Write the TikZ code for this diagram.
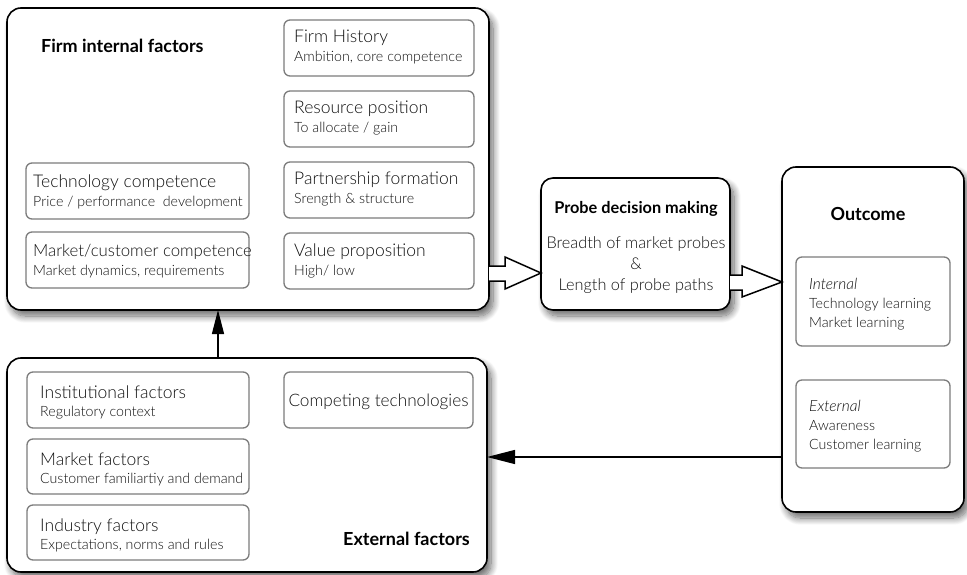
\documentclass[tikz,border=0pt]{standalone}
\usepackage{fontspec}
\setmainfont{Lato}[UprightFont=* Light, ItalicFont=* Light Italic, BoldFont=* Bold]
\usetikzlibrary{calc,arrows.meta,shadows.blur}

\definecolor{framegray}{HTML}{7C7C7C}
\definecolor{inkgray}{HTML}{111111}

\tikzset{
  outerbox/.style={draw=black, line width=1.6pt, rounded corners=14pt, fill=white,
    inner sep=0pt, outer sep=0pt, anchor=north west,
    blur shadow={shadow xshift=4pt, shadow yshift=-6pt, shadow blur steps=12, shadow blur radius=7pt, shadow opacity=60}},
  innerbox/.style={draw=framegray, line width=1.3pt, rounded corners=6pt, fill=white,
    inner sep=0pt, outer sep=0pt, anchor=north west},
  headtxt/.style={anchor=base west, inner sep=0pt, text=inkgray, font=\fontsize{17.5}{19}\selectfont},
  subtxt/.style={anchor=base west, inner sep=0pt, text=inkgray, font=\fontsize{14.2}{16}\selectfont},
  boldtxt/.style={inner sep=0pt, text=black, font=\fontsize{18}{20}\selectfont\bfseries},
  smalltxt/.style={anchor=base west, inner sep=0pt, text=inkgray, font=\fontsize{14.2}{16}\selectfont},
  bodytxt/.style={anchor=base, inner sep=0pt, text=inkgray, font=\fontsize{16.3}{18}\selectfont},
  hollow/.style={draw=black, fill=white, line width=1.5pt, line join=miter},
  link/.style={draw=black, line width=1.3pt}
}

\begin{document}
\begin{tikzpicture}[x=1pt,y=-1pt]
\useasboundingbox (0,0) rectangle (967,575);

% ---------------- Firm internal factors ----------------
\node[outerbox, minimum width=482pt, minimum height=302pt] (firm) at (7,8) {};
\node[boldtxt, anchor=base west] (firmtitle) at (41,53) {Firm internal factors};

\node[innerbox, minimum width=190pt, minimum height=56pt] (hist) at (284,20) {};
\node[headtxt] (histA) at ($(hist.north west)+(10,23)$) {Firm History};
\node[subtxt]  (histB) at ($(hist.north west)+(10,42)$) {Ambition, core competence};

\node[innerbox, minimum width=190pt, minimum height=56pt] (res) at (284,91) {};
\node[headtxt] (resA) at ($(res.north west)+(10,23)$) {Resource position};
\node[subtxt]  (resB) at ($(res.north west)+(10,42)$) {To allocate / gain};

\node[innerbox, minimum width=190pt, minimum height=56pt] (part) at (284,162) {};
\node[headtxt] (partA) at ($(part.north west)+(10,23)$) {Partnership formation};
\node[subtxt]  (partB) at ($(part.north west)+(10,42)$) {Srength \& structure};

\node[innerbox, minimum width=190pt, minimum height=56pt] (val) at (284,233) {};
\node[headtxt] (valA) at ($(val.north west)+(10,23)$) {Value proposition};
\node[subtxt]  (valB) at ($(val.north west)+(10,42)$) {High/ low};

\node[innerbox, minimum width=223pt, minimum height=56pt] (tech) at (26,163) {};
\node[headtxt] (techA) at ($(tech.north west)+(7,24)$) {Technology competence};
\node[subtxt]  (techB) at ($(tech.north west)+(7,43)$) {Price / performance\ \ development};

\node[innerbox, minimum width=223pt, minimum height=56pt] (mkt) at (26,232) {};
\node[headtxt, font=\fontsize{16.8}{19}\selectfont] (mktA) at ($(mkt.north west)+(7,24)$) {Market/customer competence};
\node[subtxt]  (mktB) at ($(mkt.north west)+(7,43)$) {Market dynamics, requirements};

% ---------------- External factors ----------------
\node[outerbox, minimum width=480pt, minimum height=214pt] (ext) at (7,358) {};
\node[boldtxt, anchor=base east] (exttitle) at (470,545) {External factors};

\node[innerbox, minimum width=222pt, minimum height=56pt] (inst) at (27,372) {};
\node[headtxt] (instA) at ($(inst.north west)+(13,26)$) {Institutional factors};
\node[subtxt]  (instB) at ($(inst.north west)+(13,44)$) {Regulatory context};

\node[innerbox, minimum width=222pt, minimum height=55pt] (mf) at (27,439) {};
\node[headtxt] (mfA) at ($(mf.north west)+(13,26)$) {Market factors};
\node[subtxt]  (mfB) at ($(mf.north west)+(13,44)$) {Customer familiartiy and demand};

\node[innerbox, minimum width=222pt, minimum height=55pt] (ind) at (27,505) {};
\node[headtxt] (indA) at ($(ind.north west)+(13,26)$) {Industry factors};
\node[subtxt]  (indB) at ($(ind.north west)+(13,44)$) {Expectations, norms and rules};

\node[innerbox, minimum width=189pt, minimum height=56pt] (comp) at (284,372) {};
\node[headtxt, anchor=base, font=\fontsize{17.2}{19}\selectfont] (compA) at ($(comp.north)+(0,34)$) {Competing technologies};

% ---------------- Probe decision making ----------------
\node[outerbox, rounded corners=12pt, minimum width=189pt, minimum height=132pt] (probe) at (541,178) {};
\node[boldtxt, anchor=base, font=\fontsize{16.3}{18}\selectfont\bfseries] (probeT) at (636,213) {Probe decision making};
\node[bodytxt] (probe1) at (636,248) {Breadth of market probes};
\node[bodytxt] (probe2) at (636,269) {\&};
\node[bodytxt] (probe3) at (636,290) {Length of probe paths};

% ---------------- Outcome ----------------
\node[outerbox, minimum width=182pt, minimum height=345pt] (out) at (782,167) {};
\node[boldtxt, anchor=base] (outT) at (868,220) {Outcome};

\node[innerbox, minimum width=154pt, minimum height=89pt] (oint) at (796,257) {};
\node[smalltxt, font=\fontsize{15.5}{17}\selectfont\itshape] (ointA) at ($(oint.north west)+(13,32)$) {Internal};
\node[smalltxt] (ointB) at ($(oint.north west)+(13,51)$) {Technology learning};
\node[smalltxt] (ointC) at ($(oint.north west)+(13,70)$) {Market learning};

\node[innerbox, minimum width=154pt, minimum height=88pt] (oext) at (796,380) {};
\node[smalltxt, font=\fontsize{15.5}{17}\selectfont\itshape] (oextA) at ($(oext.north west)+(13,31)$) {External};
\node[smalltxt] (oextB) at ($(oext.north west)+(13,50)$) {Awareness};
\node[smalltxt] (oextC) at ($(oext.north west)+(13,69)$) {Customer learning};

% ---------------- Connectors ----------------
% hollow block arrow: firm internal factors -> probe decision making
\coordinate (a1s) at (firm.east |- 0,266);
\coordinate (a1t) at (probe.west |- 0,273);
\draw[hollow] (a1s) -- ++(16,0) -- ++(0,-9) -- (a1t) -- ($(a1s)+(16,23)$) -- ++(0,-8) -- ($(a1s)+(0,15)$);

% hollow block arrow: probe decision making -> outcome
\coordinate (a2s) at (probe.east |- 0,275);
\coordinate (a2t) at (out.west |- 0,282);
\draw[hollow] (a2s) -- ++(12,0) -- ++(0,-9) -- (a2t) -- ($(a2s)+(12,22)$) -- ++(0,-7) -- ($(a2s)+(0,15)$);

% external factors -> firm internal factors
\coordinate (upS) at (ext.north -| 218,0);
\coordinate (upT) at (firm.south -| 218,0);
\draw[link, -{Triangle[length=24pt,width=12pt]}] (upS) -- (upT);

% outcome -> external factors (feedback)
\coordinate (fbS) at (out.west |- 0,457);
\coordinate (fbT) at (ext.east |- 0,457);
\draw[link, -{Triangle[length=28pt,width=14pt]}] (fbS) -- (fbT);
\end{tikzpicture}
\end{document}
